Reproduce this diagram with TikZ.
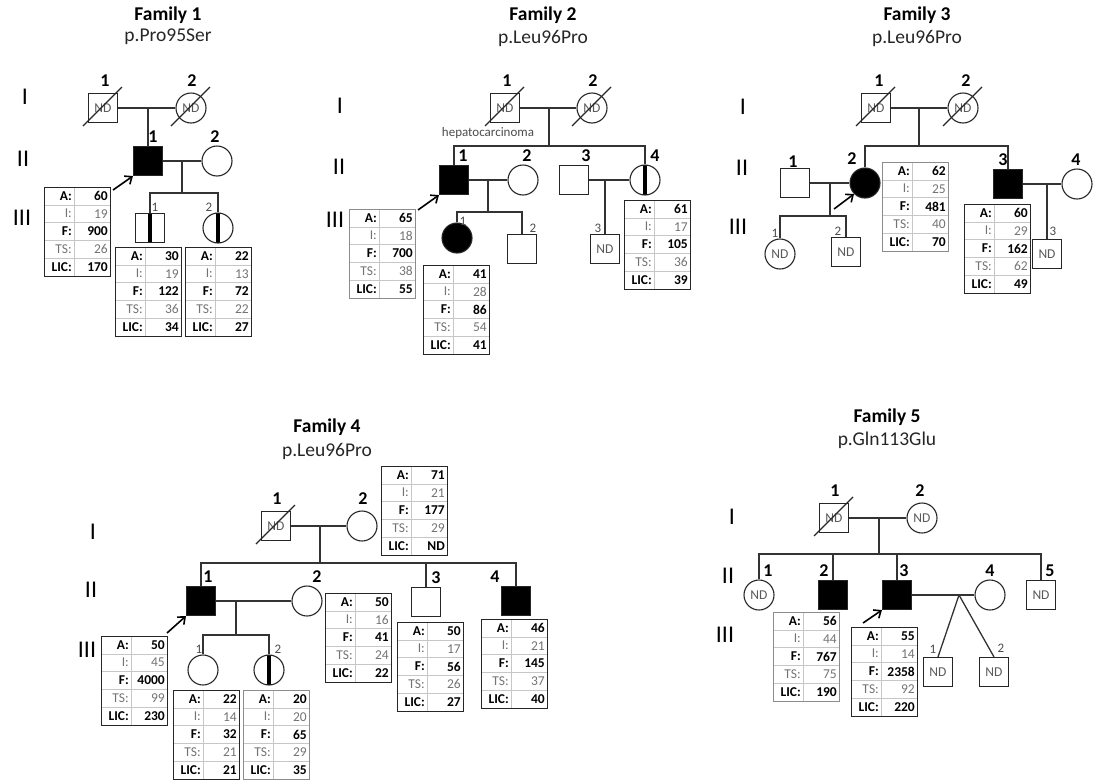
\documentclass[tikz,border=0pt]{standalone}
\usepackage{fontspec}
\setmainfont{Carlito}
\usetikzlibrary{arrows.meta,positioning}

\newcommand{\labtab}[8][black!85]{%
  \begin{scope}[shift={#3}]
    \foreach \k in {1,...,4} \draw[tabrule] (0,17.8*\k) -- (66,17.8*\k);
    \draw[tabrule] (30,0) -- (30,89);
    \node[tabbox,draw=#1] (#2) at (0,0) {};
    \node[tabtxt,hi] at (29,8.9) {A:};    \node[tabtxt,hi] at (65,8.9) {#4};
    \node[tabtxt,lo] at (29,26.7) {I:};   \node[tabtxt,lo] at (65,26.7) {#5};
    \node[tabtxt,hi] at (29,44.5) {F:};   \node[tabtxt,hi] at (65,44.5) {#6};
    \node[tabtxt,lo] at (29,62.3) {TS:};  \node[tabtxt,lo] at (65,62.3) {#7};
    \node[tabtxt,hi] at (29,80.1) {LIC:}; \node[tabtxt,hi] at (65,80.1) {#8};
  \end{scope}}
\newcommand{\deceased}[1]{\draw[slash] ([shift={(-20,18)}]#1.center) -- ([shift={(19,-21)}]#1.center);}

\begin{document}
\begin{tikzpicture}[x=1pt,y=-1pt,
male/.style={rectangle,draw=black!85,line width=1.1pt,minimum size=29pt,inner sep=0pt,font=\fontsize{13.5}{13.5}\selectfont,text=black!65},
female/.style={male,circle,minimum size=30pt},
aff/.style={fill=black},
carrier/.style={path picture={\fill[black] ([xshift=-2.2pt]path picture bounding box.north) rectangle ([xshift=2.2pt]path picture bounding box.south);}},
rel/.style={draw=black!80,line width=1.3pt},
slash/.style={draw=black!85,line width=1.1pt},
proband/.style={-{Straight Barb[length=6pt,width=10pt]},line width=1.6pt},
num/.style={font=\bfseries\fontsize{18}{18}\selectfont,inner sep=1pt,yshift=2pt},
topnum/.style={font=\bfseries\fontsize{18}{18}\selectfont,inner sep=1pt,yshift=5pt},
sublab/.style={font=\fontsize{13}{13}\selectfont,text=black!70,inner sep=1pt},
gen/.style={font=\fontsize{24}{24}\selectfont},
famtitle/.style={font=\bfseries\fontsize{19.5}{19.5}\selectfont},
mut/.style={font=\fontsize{19.5}{19.5}\selectfont,text=black!85},
note/.style={font=\fontsize{13}{13}\selectfont,text=black!70},
tabbox/.style={draw=black!85,line width=1.1pt,minimum width=66pt,minimum height=89pt,anchor=north west,inner sep=0pt},
tabrule/.style={draw=black!22,line width=0.6pt},
tabtxt/.style={anchor=east,inner sep=1pt,font=\fontsize{13.5}{13.5}\selectfont},
hi/.style={font=\bfseries\fontsize{13.5}{13.5}\selectfont,text=black},
lo/.style={text=black!55}
]
\useasboundingbox (0,0) rectangle (1093,782);

% Family 1
\node[famtitle] (f1title) at (168,15) {Family 1};
\node[mut] (f1mut) at (168,37) {p.Pro95Ser};
\node[gen] (f1g1) at (25,97) {I};
\node[gen] (f1g2) at (23,159) {II};
\node[gen] (f1g3) at (22,218) {III};
\node[male,label={[topnum,xshift=2pt]above:1}] (f1i1) at (103,108) {ND};
\node[female,label={[topnum,xshift=1pt]above:2}] (f1i2) at (191,108) {ND};
\node[male,aff,label={[num,xshift=5pt]above:1}] (f1ii1) at (148,161) {};
\node[female,label={[num,xshift=-2pt]above:2}] (f1ii2) at (217,161) {};
\node[male,carrier,label={[sublab,xshift=5pt]above:1}] (f1iii1) at (150,228) {};
\node[female,carrier,label={[sublab,xshift=-9pt]above:2}] (f1iii2) at (218,228) {};
\deceased{f1i1}
\deceased{f1i2}
\coordinate (f1c1) at (148,108);
\coordinate (f1c2) at (182,161);
\coordinate (f1s2) at (182,193);
\draw[rel] (f1i1) -- (f1i2);
\draw[rel] (f1c1) -- (f1ii1);
\draw[rel] (f1ii1) -- (f1ii2);
\draw[rel] (f1c2) -- (f1s2);
\draw[rel] (f1iii1) |- (f1s2) -| (f1iii2);
\labtab{f1t1}{(44,187)}{60}{19}{900}{26}{170}
\labtab{f1t2}{(115,247)}{30}{19}{122}{36}{34}
\labtab{f1t3}{(185,247)}{22}{13}{72}{22}{27}
\coordinate (f1p) at (113,190);
\draw[proband] (f1p) -- (f1ii1.south west);

% Family 2
\node[famtitle] (f2title) at (543,15) {Family 2};
\node[mut] (f2mut) at (543,38) {p.Leu96Pro};
\node[gen] (f2g1) at (340,106) {I};
\node[gen] (f2g2) at (339,167) {II};
\node[gen] (f2g3) at (335,220) {III};
\node[male,label={[topnum,xshift=2pt]above:1}] (f2i1) at (505,108) {ND};
\node[female,label={[topnum,xshift=1pt]above:2}] (f2i2) at (592,108) {ND};
\node[note] (f2note) at (488,133) {hepatocarcinoma};
\node[male,aff,label={[num,xshift=9pt]above:1}] (f2ii1) at (454,180) {};
\node[female,label={[num,xshift=4pt]above:2}] (f2ii2) at (523,180) {};
\node[male,label={[num,xshift=12pt]above:3}] (f2ii3) at (574,180) {};
\node[female,carrier,label={[num,xshift=10pt]above:4}] (f2ii4) at (645,180) {};
\node[female,aff,label={[sublab,xshift=6pt,yshift=-4pt]above:1}] (f2iii1) at (457,238) {};
\node[male,label={[sublab,xshift=11pt]above:2}] (f2iii2) at (522,249) {};
\node[male,label={[sublab,xshift=-7pt]above:3}] (f2iii3) at (605,249) {ND};
\deceased{f2i1}
\deceased{f2i2}
\coordinate (f2c1) at (549,108);
\coordinate (f2s1) at (549,146);
\coordinate (f2c2) at (488,180);
\coordinate (f2s2) at (488,212);
\coordinate (f2c3) at (605,180);
\draw[rel] (f2i1) -- (f2i2);
\draw[rel] (f2c1) -- (f2s1);
\draw[rel] (f2ii1) |- (f2s1) -| (f2ii4);
\draw[rel] (f2ii1) -- (f2ii2);
\draw[rel] (f2c2) -- (f2s2);
\draw[rel] (f2iii1) |- (f2s2) -| (f2iii2);
\draw[rel] (f2ii3) -- (f2ii4);
\draw[rel] (f2c3) -- (f2iii3);
\labtab[black!45]{f2t1}{(349,209)}{65}{18}{700}{38}{55}
\labtab{f2t2}{(423,265)}{41}{28}{86}{54}{41}
\labtab{f2t3}{(624,200)}{61}{17}{105}{36}{39}
\coordinate (f2p) at (418,210);
\draw[proband] (f2p) -- (f2ii1.south west);

% Family 3
\node[famtitle] (f3title) at (917,15) {Family 3};
\node[mut] (f3mut) at (917,38) {p.Leu96Pro};
\node[gen] (f3g1) at (743,107) {I};
\node[gen] (f3g2) at (742,168) {II};
\node[gen] (f3g3) at (738,227) {III};
\node[male,label={[topnum,xshift=3pt]above:1}] (f3i1) at (876,108) {ND};
\node[female,label={[topnum,xshift=3pt]above:2}] (f3i2) at (963,108) {ND};
\node[male,label={[num,xshift=-2pt,yshift=-3pt]above:1}] (f3ii1) at (795,183) {};
\node[female,aff,label={[num,xshift=-13pt]above:2}] (f3ii2) at (865,183) {};
\node[male,aff,label={[num,xshift=-5pt]above:3}] (f3ii3) at (1008,184) {};
\node[female,label={[num,xshift=-1pt]above:4}] (f3ii4) at (1077,184) {};
\node[female,label={[sublab,xshift=-5pt]above:1}] (f3iii1) at (780,254) {ND};
\node[male,label={[sublab,xshift=-8pt]above:2}] (f3iii2) at (846,252) {ND};
\node[male,label={[sublab,xshift=6pt,yshift=2pt]above:3}] (f3iii3) at (1047,254) {ND};
\deceased{f3i1}
\deceased{f3i2}
\coordinate (f3c1) at (919,108);
\coordinate (f3s1) at (919,146);
\coordinate (f3c2) at (830,183);
\coordinate (f3s2) at (830,216);
\coordinate (f3c3) at (1047,184);
\draw[rel] (f3i1) -- (f3i2);
\draw[rel] (f3c1) -- (f3s1);
\draw[rel] (f3ii2) |- (f3s1) -| (f3ii3);
\draw[rel] (f3ii1) -- (f3ii2);
\draw[rel] (f3c2) -- (f3s2);
\draw[rel] (f3iii1) |- (f3s2) -| (f3iii2);
\draw[rel] (f3ii3) -- (f3ii4);
\draw[rel] (f3c3) -- (f3iii3);
\labtab[black!45]{f3t1}{(882,162)}{62}{25}{481}{40}{70}
\labtab{f3t2}{(964,204)}{60}{29}{162}{62}{49}
\coordinate (f3p) at (834,209);
\draw[proband] (f3p) -- (f3ii2.south west);

% Family 4
\node[famtitle] (f4title) at (327,427) {Family 4};
\node[mut] (f4mut) at (327,451) {p.Leu96Pro};
\node[gen] (f4g1) at (93,532) {I};
\node[gen] (f4g2) at (91,590) {II};
\node[gen] (f4g3) at (87,650) {III};
\node[male,label={[topnum,xshift=1pt]above:1}] (f4i1) at (276,526) {ND};
\node[female,label={[topnum,xshift=1pt]above:2}] (f4i2) at (362,526) {};
\node[male,aff,label={[num,xshift=7pt]above:1}] (f4ii1) at (201,601) {};
\node[female,label={[num,xshift=10pt]above:2}] (f4ii2) at (307,601) {};
\node[male,label={[num,xshift=10pt]above:3}] (f4ii3) at (426,602) {};
\node[male,aff,label={[num,xshift=-21pt]above:4}] (f4ii4) at (516,601) {};
\node[female,label={[sublab,xshift=-4pt]above:1}] (f4iii1) at (203,670) {};
\node[female,carrier,label={[sublab,xshift=9pt]above:2}] (f4iii2) at (269,670) {};
\deceased{f4i1}
\coordinate (f4c1) at (320,526);
\coordinate (f4s1) at (320,563);
\coordinate (f4c2) at (236,601);
\coordinate (f4s2) at (236,635);
\draw[rel] (f4i1) -- (f4i2);
\draw[rel] (f4c1) -- (f4s1);
\draw[rel] (f4ii1) |- (f4s1) -| (f4ii4);
\draw[rel] (f4s1) -| (f4ii3);
\draw[rel] (f4ii1) -- (f4ii2);
\draw[rel] (f4c2) -- (f4s2);
\draw[rel] (f4iii1) |- (f4s2) -| (f4iii2);
\labtab{f4t0}{(381,466)}{71}{21}{177}{29}{ND}
\labtab{f4t1}{(101,636)}{50}{45}{4000}{99}{230}
\labtab{f4t2}{(173,690)}{22}{14}{32}{21}{21}
\labtab[black!45]{f4t3}{(243,690)}{20}{20}{65}{29}{35}
\labtab{f4t4}{(325,593)}{50}{16}{41}{24}{22}
\labtab{f4t5}{(397,622)}{50}{17}{56}{26}{27}
\labtab{f4t6}{(481,619)}{46}{21}{145}{37}{40}
\coordinate (f4p) at (167,633);
\draw[proband] (f4p) -- (f4ii1.south west);

% Family 5
\node[famtitle] (f5title) at (887,417) {Family 5};
\node[mut] (f5mut) at (887,440) {p.Gln113Glu};
\node[gen] (f5g1) at (732,517) {I};
\node[gen] (f5g2) at (728,576) {II};
\node[gen] (f5g3) at (725,635) {III};
\node[male,label={[topnum,xshift=1pt]above:1}] (f5i1) at (834,518) {ND};
\node[female,label={[topnum,xshift=-2pt]above:2}] (f5i2) at (922,518) {ND};
\node[female,label={[num,xshift=9pt]above:1}] (f5ii1) at (759,595) {ND};
\node[male,aff,label={[num,xshift=-9pt]above:2}] (f5ii2) at (833,595) {};
\node[male,aff,label={[num,xshift=7pt]above:3}] (f5ii3) at (897,595) {};
\node[female,label={[num]above:4}] (f5ii4) at (990,595) {};
\node[male,label={[num,xshift=9pt]above:5}] (f5ii5) at (1041,595) {ND};
\node[male,label={[sublab,xshift=-5pt,yshift=2pt]above:1}] (f5iii1) at (938,672) {ND};
\node[male,label={[sublab,xshift=7pt,yshift=3pt]above:2}] (f5iii2) at (994,672) {ND};
\deceased{f5i1}
\coordinate (f5c1) at (879,518);
\coordinate (f5s1) at (879,554);
\coordinate (f5c2) at (959,595);
\draw[rel] (f5i1) -- (f5i2);
\draw[rel] (f5c1) -- (f5s1);
\draw[rel] (f5ii1) |- (f5s1) -| (f5ii5);
\draw[rel] (f5s1) -| (f5ii2);
\draw[rel] (f5s1) -| (f5ii3);
\draw[rel] (f5ii3) -- (f5ii4);
\draw[rel] (f5c2) -- (f5iii1.north);
\draw[rel] (f5c2) -- (f5iii2.north);
\labtab[black!45]{f5t1}{(773,612)}{56}{44}{767}{75}{190}
\labtab{f5t2}{(851,627)}{55}{14}{2358}{92}{220}
\coordinate (f5p) at (863,623);
\draw[proband] (f5p) -- (f5ii3.south west);
\end{tikzpicture}
\end{document}
